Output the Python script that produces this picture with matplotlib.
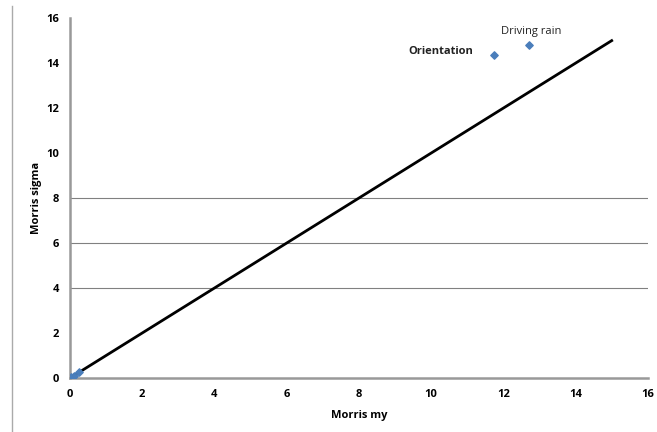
import matplotlib
matplotlib.use("Agg")
import matplotlib.pyplot as plt
from matplotlib.lines import Line2D

# data
mu = [0.02, 0.1, 0.25, 11.75, 12.7]
sigma = [0.05, 0.1, 0.25, 14.35, 14.8]
point_labels = {3: "Orientation", 4: "Driving rain"}
line_x = [0, 15]
line_y = [0, 15]
grid_levels = [4, 6, 8]
ticks = [0, 2, 4, 6, 8, 10, 12, 14, 16]

plt.rcParams['font.family'] = ['Open Sans', 'DejaVu Sans']

fig = plt.figure(figsize=(6.57, 4.32), dpi=100)
ax = fig.add_axes([0.1065, 0.125, 0.8795, 0.833])

for g in grid_levels:
    ax.axhline(g, color='#808080', linewidth=0.8, zorder=1)

ax.plot(line_x, line_y, color='black', linewidth=2, zorder=2)
ax.scatter(mu, sigma, marker='D', s=14, color='#4a7ebb', zorder=3)

ax.annotate(point_labels[3], (mu[3], sigma[3]), xytext=(-15, 3),
            textcoords='offset points', fontsize=8, fontweight='bold',
            va='center', ha='right', color='#222222')
ax.annotate(point_labels[4], (mu[4], sigma[4]), xytext=(-20, 10),
            textcoords='offset points', fontsize=8,
            va='center', ha='left', color='#222222')

ax.set_xlim(0, 16)
ax.set_ylim(0, 16)
ax.set_xticks(ticks)
ax.set_yticks(ticks)
ax.tick_params(length=0, labelsize=8, pad=8)
for lab in ax.get_xticklabels() + ax.get_yticklabels():
    lab.set_fontweight('bold')

ax.set_xlabel('Morris my', fontsize=8, fontweight='bold', labelpad=7)
ax.set_ylabel('Morris sigma', fontsize=8, fontweight='bold', labelpad=3)

for side in ['top', 'right']:
    ax.spines[side].set_visible(False)
for side in ['left', 'bottom']:
    ax.spines[side].set_color('#999999')
    ax.spines[side].set_linewidth(1.8)

# thin frame line on the left edge of the picture
fig.add_artist(Line2D([12 / 657, 12 / 657], [0, 1 - 6 / 432],
                      transform=fig.transFigure, color='#aaaaaa', linewidth=1))

fig.savefig('out.png', dpi=100)
